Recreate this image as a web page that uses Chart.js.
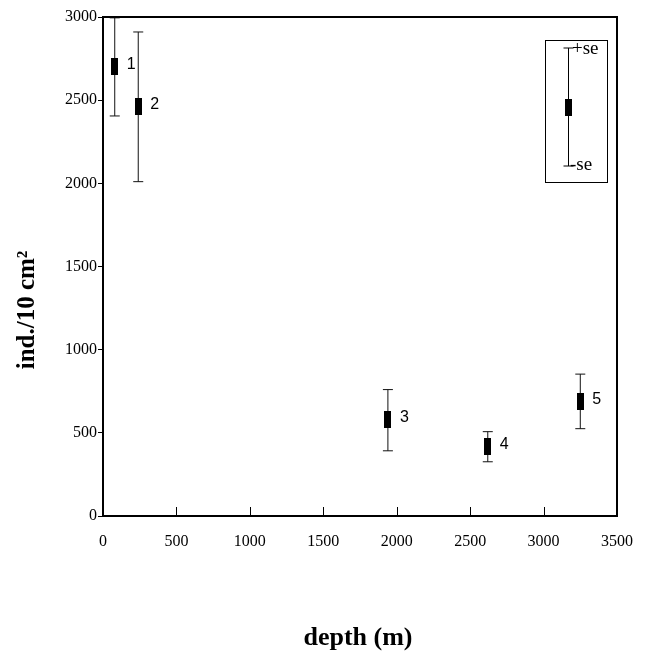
<!DOCTYPE html>
<html>
<head>
<meta charset="utf-8">
<script src="https://cdn.jsdelivr.net/npm/chart.js"></script>
<style>
  body { margin: 0; background: #fff; }
  #wrap { width: 647px; height: 656px; }
</style>
</head>
<body>
<div id="wrap"><canvas id="densityChart" width="647" height="656"></canvas></div>
<script>
// station data
const depth = [80, 240, 1940, 2620, 3250];
const mean = [2700, 2460, 580, 415, 690];
const upper = [2995, 2910, 760, 507, 853];
const lower = [2405, 2010, 392, 326, 525];
const stationLabels = ['1', '2', '3', '4', '5'];

// black bar used as the mean marker
function makeBar() {
    const c = document.createElement('canvas');
    c.width = 7; c.height = 17;
    const g = c.getContext('2d');
    g.fillStyle = '#000';
    g.fillRect(0, 0, 7, 17);
    return c;
}
const bar = makeBar();

const errorSets = depth.map((d, i) => ({
    data: [{ x: d, y: lower[i] }, { x: d, y: upper[i] }],
    showLine: true,
    borderColor: '#111',
    borderWidth: 1,
    pointStyle: 'line',
    pointRadius: 5,
    pointBorderColor: '#111',
    pointBorderWidth: 1,
    clip: false
}));

const framePlugin = {
    id: 'frame',
    afterDraw(chart) {
        const ctx = chart.ctx;
        const a = chart.chartArea;
        const xs = chart.scales.x, ys = chart.scales.y;
        ctx.save();
        // plot box
        ctx.strokeStyle = '#000';
        ctx.lineWidth = 2;
        ctx.strokeRect(a.left, a.top, a.right - a.left, a.bottom - a.top);
        // x ticks pointing inward
        ctx.lineWidth = 1;
        xs.ticks.forEach(t => {
            const px = Math.round(xs.getPixelForValue(t.value)) + 0.5;
            ctx.beginPath();
            ctx.moveTo(px, a.bottom);
            ctx.lineTo(px, a.bottom - 9);
            ctx.stroke();
        });
        // station numbers
        ctx.fillStyle = '#000';
        ctx.font = '16px "Liberation Sans", Arial, sans-serif';
        ctx.textBaseline = 'middle';
        ctx.textAlign = 'left';
        depth.forEach((d, i) => {
            ctx.fillText(stationLabels[i], xs.getPixelForValue(d) + 12, ys.getPixelForValue(mean[i]) - 2);
        });
        // key box
        const bx = 545, by = 40;
        ctx.lineWidth = 1;
        ctx.strokeRect(bx + 0.5, by + 0.5, 62, 142);
        const lx = 568.5;
        ctx.beginPath();
        ctx.moveTo(lx, 48); ctx.lineTo(lx, 166);
        ctx.moveTo(lx - 5, 48); ctx.lineTo(lx + 5, 48);
        ctx.moveTo(lx - 5, 166); ctx.lineTo(lx + 5, 166);
        ctx.stroke();
        ctx.drawImage(bar, 565, 99);
        ctx.font = '19px "Liberation Serif", "Times New Roman", serif';
        ctx.textBaseline = 'alphabetic';
        ctx.fillText('+se', 572, 54);
        ctx.fillText('-se', 570, 170);
        // axis titles
        ctx.font = 'bold 26px "Liberation Serif", "Times New Roman", serif';
        ctx.textAlign = 'center';
        ctx.textBaseline = 'middle';
        ctx.fillText('depth (m)', 358, 638);
        ctx.font = 'bold 25px "Liberation Serif", "Times New Roman", serif';
        ctx.translate(28, 310);
        ctx.rotate(-Math.PI / 2);
        ctx.fillText('ind./10 cm²', 0, 0);
        ctx.restore();
    }
};

new Chart(document.getElementById('densityChart').getContext('2d'), {
    type: 'scatter',
    data: {
        datasets: [{
            data: depth.map((d, i) => ({ x: d, y: mean[i] })),
            pointStyle: bar,
            pointRadius: 4,
            clip: false
        }].concat(errorSets)
    },
    options: {
        responsive: false,
        animation: false,
        layout: { padding: { top: 17, right: 30, left: 0, bottom: 0 } },
        plugins: { legend: { display: false }, tooltip: { enabled: false } },
        scales: {
            x: {
                type: 'linear',
                min: 0, max: 3500,
                ticks: { stepSize: 500, color: '#000', padding: 8, callback: v => String(v),
                    font: { family: '"Liberation Serif", "Times New Roman", serif', size: 16 } },
                grid: { display: false },
                border: { display: false },
                afterFit: s => { s.height = 140; }
            },
            y: {
                min: 0, max: 3000,
                ticks: { stepSize: 500, color: '#000', padding: 1, callback: v => String(v),
                    font: { family: '"Liberation Serif", "Times New Roman", serif', size: 16 } },
                grid: { drawOnChartArea: false, drawTicks: true, tickLength: 5, color: '#000' },
                border: { display: false },
                afterFit: s => { s.width = 103; }
            }
        }
    },
    plugins: [framePlugin]
});
</script>
</body>
</html>
